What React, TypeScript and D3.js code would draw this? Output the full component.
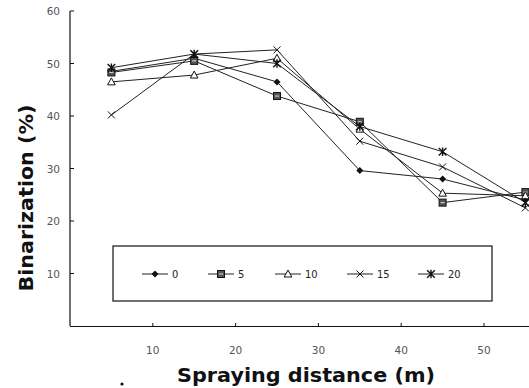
import React from "react";
import * as d3 from "d3";

const distances = [5, 15, 25, 35, 45, 55];
const seriesNames = ["0", "5", "10", "15", "20"];
const s0 = [48.5, 51, 46.5, 29.6, 28, 24];
const s5 = [48.3, 50.5, 43.8, 38.9, 23.5, 25.5];
const s10 = [46.5, 47.8, 51, 37.5, 25.3, 24.8];
const s15 = [40.2, 51.8, 52.6, 35.2, 30.3, 22.5];
const s20 = [49.2, 51.8, 50, 38, 33.2, 23.5];
const seriesValues = [s0, s5, s10, s15, s20];
const xTicks = [10, 20, 30, 40, 50];
const yTicks = [10, 20, 30, 40, 50, 60];

const x = d3.scaleLinear().domain([0, 10]).range([70, 152.8]);
const y = d3.scaleLinear().domain([0, 60]).range([326, 11]);

function Marker({ kind, cx, cy }: { kind: number; cx: number; cy: number }) {
  const c = "#111";
  if (kind === 0) {
    const r = 3.5;
    return <path d={`M${cx},${cy - r}L${cx + r},${cy}L${cx},${cy + r}L${cx - r},${cy}Z`} fill={c} />;
  }
  if (kind === 1) {
    return (
      <g>
        <rect x={cx - 3.5} y={cy - 3.5} width={7} height={7} fill="#555" stroke={c} strokeWidth={1} />
        <line x1={cx - 2} x2={cx + 2} y1={cy} y2={cy} stroke="#ddd" strokeWidth={1} />
      </g>
    );
  }
  if (kind === 2) {
    return <path d={`M${cx},${cy - 4}L${cx + 3.8},${cy + 3}L${cx - 3.8},${cy + 3}Z`} fill="#fff" stroke={c} strokeWidth={1} />;
  }
  if (kind === 3) {
    const r = 3.5;
    return (
      <path d={`M${cx - r},${cy - r}L${cx + r},${cy + r}M${cx + r},${cy - r}L${cx - r},${cy + r}`} stroke={c} strokeWidth={1} />
    );
  }
  const r = 3.8;
  return (
    <path
      d={`M${cx - r},${cy - r}L${cx + r},${cy + r}M${cx + r},${cy - r}L${cx - r},${cy + r}M${cx},${cy - r - 0.5}L${cx},${cy + r + 0.5}`}
      stroke={c}
      strokeWidth={1.4}
    />
  );
}

export default function App() {
  const line = d3
    .line<number>()
    .x((_, i) => x(distances[i]))
    .y((d) => y(d));
  const legendX = [142, 208, 275, 347, 418];
  const legendY = 274;
  return (
    <svg width={529} height={388} style={{ position: "absolute", left: 0, top: 0, background: "#fff" }}>
      {/* axes */}
      <line x1={70} x2={70} y1={y(60)} y2={326} stroke="#111" strokeWidth={1.2} />
      <line x1={70} x2={74} y1={y(60)} y2={y(60)} stroke="#111" strokeWidth={1} />
      <line x1={70} x2={529} y1={326.5} y2={326.5} stroke="#111" strokeWidth={1.2} />
      {yTicks.map((t) => (
        <g key={"y" + t}>
          {t < 60 && <line x1={70} x2={74} y1={y(t)} y2={y(t)} stroke="#111" strokeWidth={1} />}
          <text x={60} y={y(t) + 4} textAnchor="end" fontSize={10.5} fill="#555" fontFamily="DejaVu Sans">
            {t}
          </text>
        </g>
      ))}
      {xTicks.map((t) => (
        <g key={"x" + t}>
          <line x1={x(t)} x2={x(t)} y1={326} y2={323} stroke="#111" strokeWidth={1} />
          <text x={x(t)} y={354} textAnchor="middle" fontSize={10.5} fill="#555" fontFamily="DejaVu Sans">
            {t}
          </text>
        </g>
      ))}
      <text
        transform="translate(33,198) rotate(-90)"
        textAnchor="middle"
        fontSize={20}
        fontWeight="bold"
        fontFamily="DejaVu Sans"
        fill="#111"
        textLength={187}
        lengthAdjust="spacingAndGlyphs"
      >
        Binarization (%)
      </text>
      <text
        x={306}
        y={382}
        textAnchor="middle"
        fontSize={20}
        fontWeight="bold"
        fontFamily="DejaVu Sans"
        fill="#111"
        textLength={258}
        lengthAdjust="spacingAndGlyphs"
      >
        Spraying distance (m)
      </text>
      <circle cx={122} cy={384} r={1.6} fill="#111" />
      {/* series */}
      {seriesValues.map((vals, k) => (
        <g key={"s" + k}>
          <path d={line(vals) || ""} fill="none" stroke="#222" strokeWidth={1} />
          {vals.map((v, i) => (
            <Marker key={i} kind={k} cx={x(distances[i])} cy={y(v)} />
          ))}
        </g>
      ))}
      {/* legend */}
      <rect x={113} y={246} width={379} height={55} fill="#fff" stroke="#111" strokeWidth={1.2} />
      {seriesNames.map((n, k) => (
        <g key={"l" + k}>
          <line x1={legendX[k]} x2={legendX[k] + 26} y1={legendY} y2={legendY} stroke="#222" strokeWidth={1} />
          <Marker kind={k} cx={legendX[k] + 13} cy={legendY} />
          <text x={legendX[k] + 30} y={legendY + 4} fontSize={11} fill="#222" fontFamily="DejaVu Sans Condensed">
            {n}
          </text>
        </g>
      ))}
    </svg>
  );
}
